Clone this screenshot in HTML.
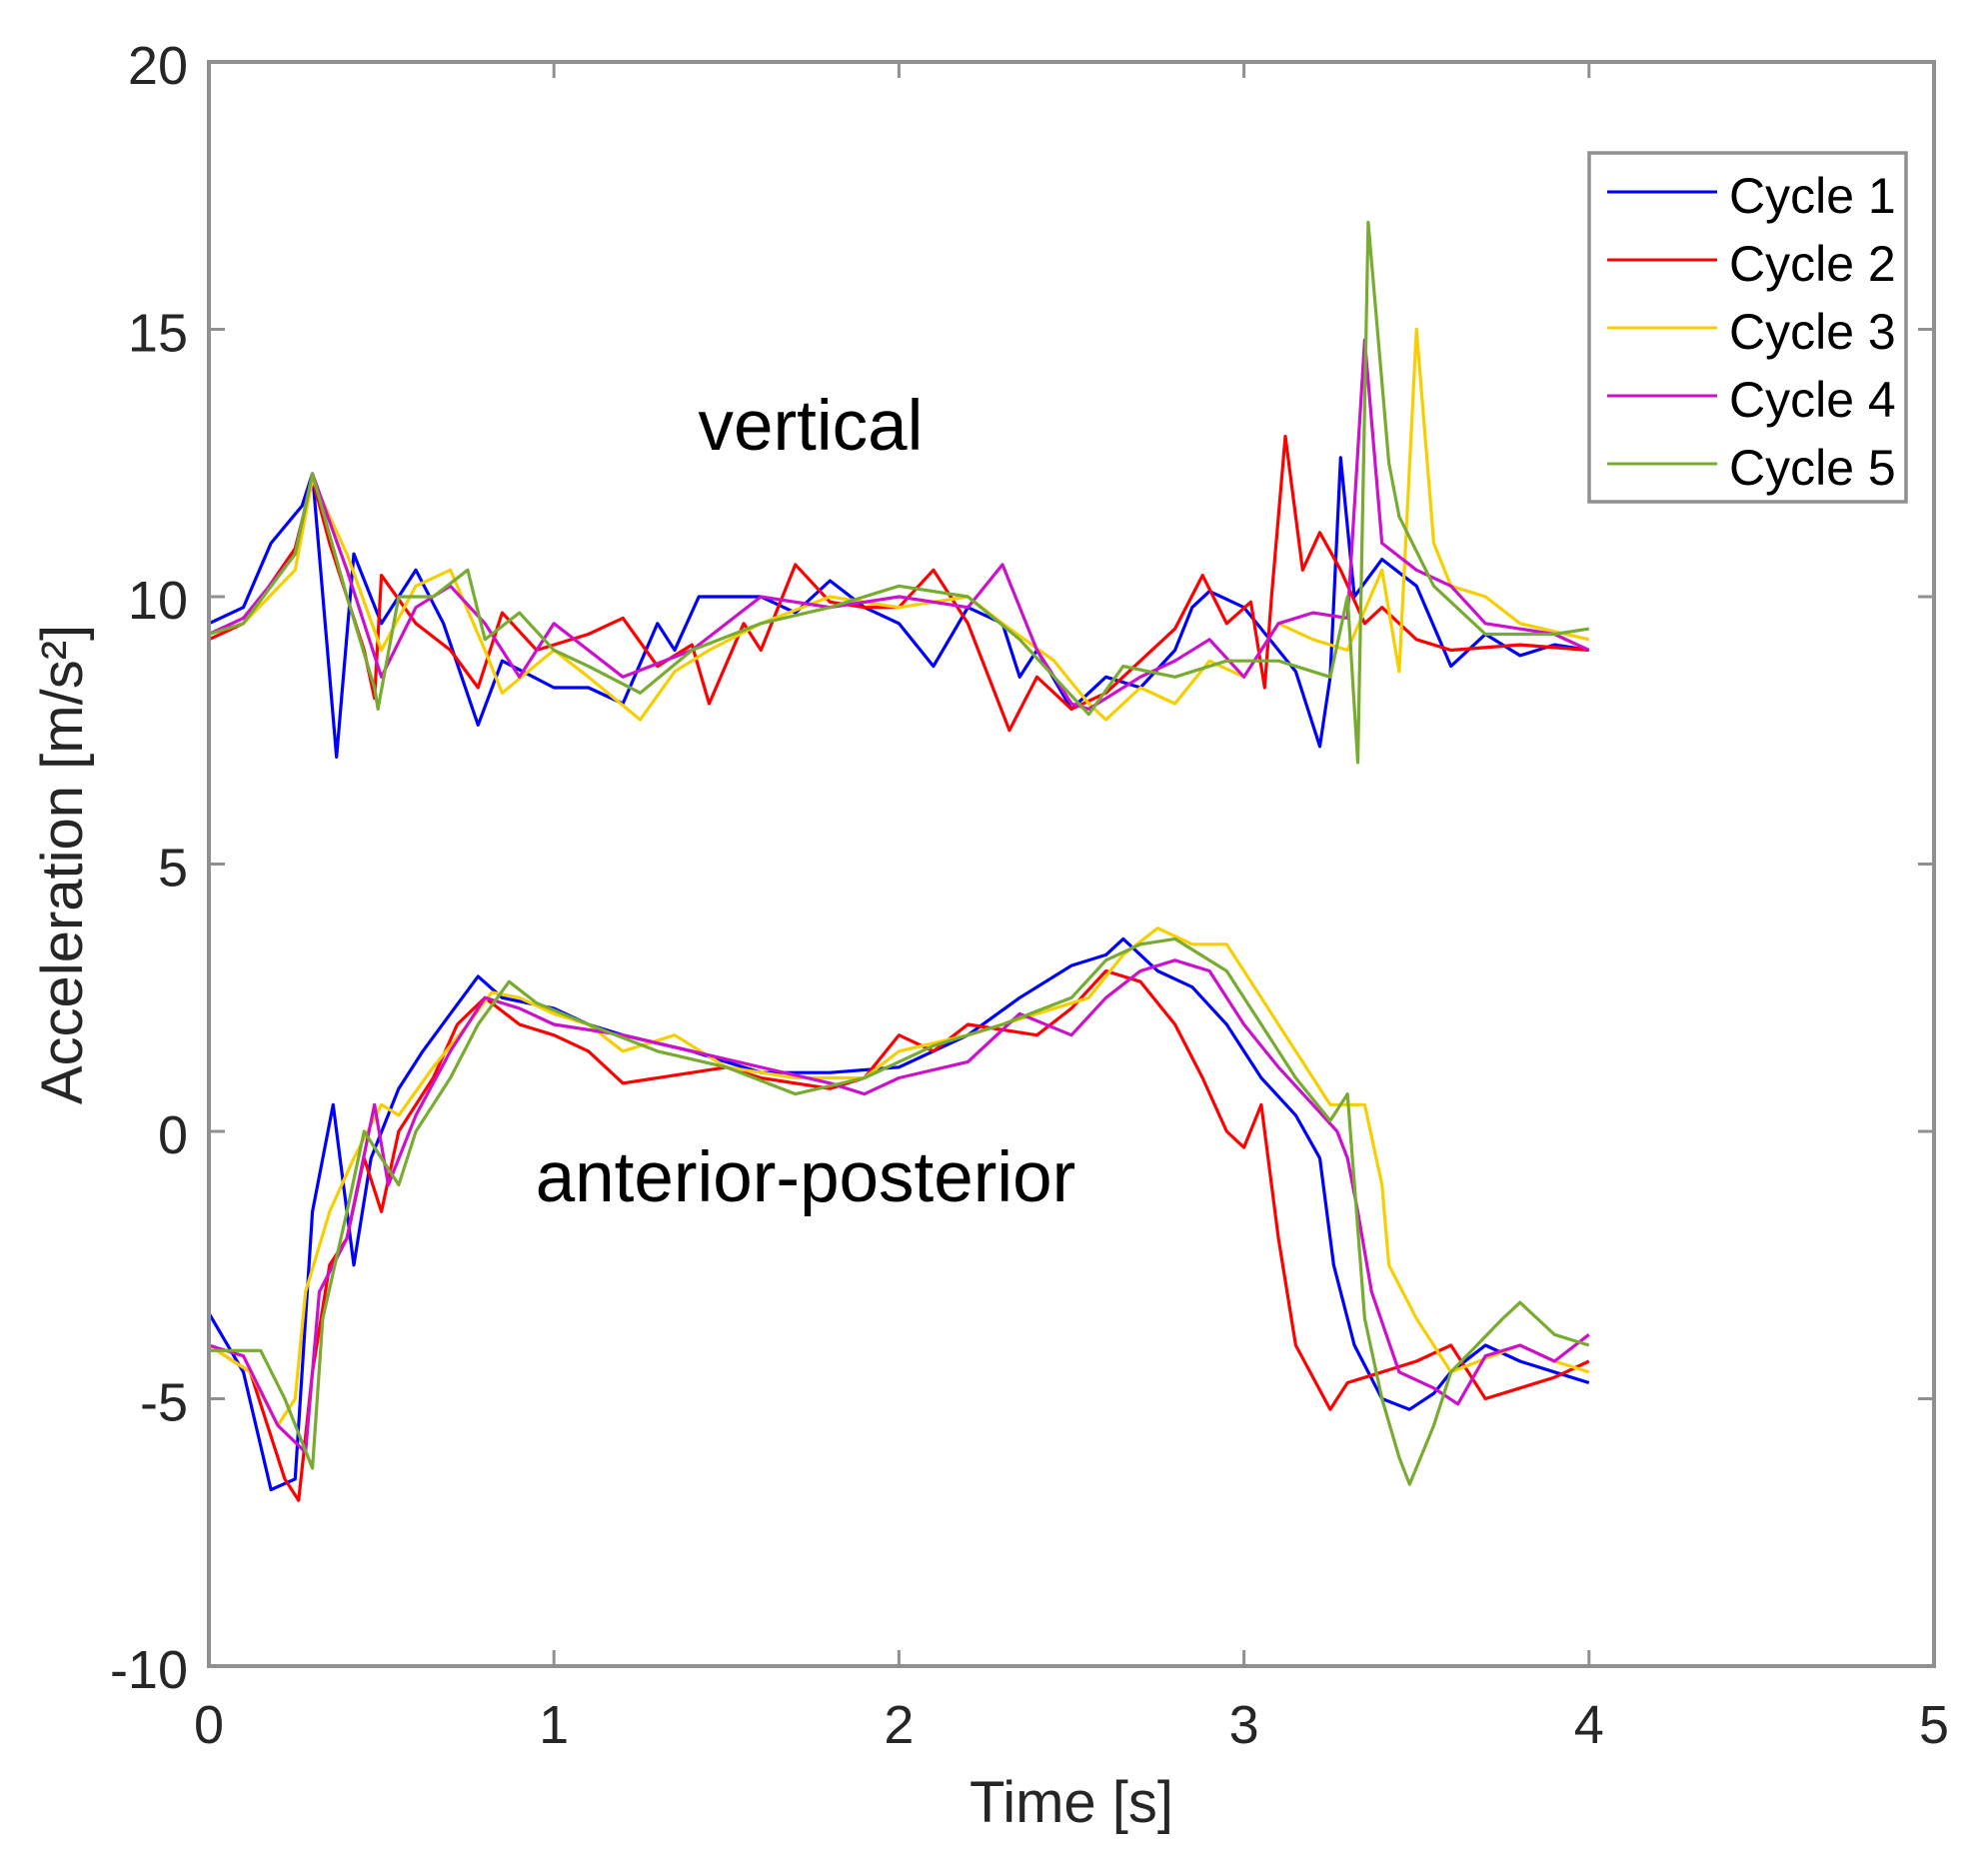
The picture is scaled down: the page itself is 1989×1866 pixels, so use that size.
<!DOCTYPE html>
<html><head><meta charset="utf-8"><style>
html,body{margin:0;padding:0;background:#fff;}
svg{display:block;font-family:"Liberation Sans",sans-serif;}
</style></head><body>
<svg id="chart" width="1989" height="1866" viewBox="0 0 1989 1866" xmlns="http://www.w3.org/2000/svg">
<rect width="1989" height="1866" fill="#fff"/>
<g id="axes"></g>
<g id="series"></g>
<rect x="209" y="62" width="1726" height="1605" fill="none" stroke="#909090" stroke-width="4"/>
<text x="811" y="450" font-size="71" text-anchor="middle" fill="#000">vertical</text>
<text x="806" y="1202" font-size="71" text-anchor="middle" fill="#000">anterior-posterior</text>
<text x="1072" y="1823" font-size="58" text-anchor="middle" fill="#262626">Time [s]</text>
<text transform="translate(82,865) rotate(-90)" font-size="58" text-anchor="middle" fill="#262626">Acceleration [m/s²]</text>
<g id="legend">
<rect x="1590" y="153" width="317" height="349" fill="#fff" stroke="#909090" stroke-width="3.5"/>
</g>
</svg>
<script>
const xTicks=[0,1,2,3,4,5];
const yTicks=[-10,-5,0,5,10,15,20];
const seriesNames=["Cycle 1","Cycle 2","Cycle 3","Cycle 4","Cycle 5"];
const seriesColors=["#0000ff","#ff0000","#f7cf00","#cc10cc","#77ac30"];

const vert1T=[0,0.1,0.18,0.27,0.3,0.37,0.42,0.5,0.6,0.68,0.78,0.85,1.0,1.1,1.2,1.3,1.35,1.42,1.6,1.7,1.8,1.9,2.0,2.1,2.2,2.3,2.35,2.4,2.5,2.6,2.7,2.8,2.85,2.9,3.0,3.1,3.15,3.22,3.25,3.28,3.32,3.4,3.5,3.6,3.7,3.8,3.9,4.0];
const vert1V=[9.5,9.8,11,11.7,12.3,7,10.8,9.5,10.5,9.5,7.6,8.8,8.3,8.3,8.0,9.5,9.0,10,10,9.7,10.3,9.8,9.5,8.7,9.8,9.5,8.5,9,7.9,8.5,8.3,9.0,9.8,10.1,9.8,9.0,8.6,7.2,8.5,12.6,10,10.7,10.2,8.7,9.3,8.9,9.1,9.0];
const vert2T=[0,0.1,0.25,0.3,0.35,0.45,0.48,0.5,0.6,0.7,0.78,0.85,0.95,1.1,1.2,1.3,1.4,1.45,1.55,1.6,1.7,1.8,1.9,2.0,2.1,2.2,2.32,2.4,2.5,2.6,2.7,2.8,2.88,2.95,3.02,3.06,3.08,3.12,3.17,3.22,3.28,3.35,3.4,3.5,3.6,3.8,4.0];
const vert2V=[9.2,9.5,10.9,12.2,11,9.0,8.1,10.4,9.5,9.0,8.3,9.7,9.0,9.3,9.6,8.7,9.1,8.0,9.5,9.0,10.6,9.9,9.8,9.8,10.5,9.5,7.5,8.5,7.9,8.2,8.8,9.4,10.4,9.5,9.9,8.3,10,13,10.5,11.2,10.5,9.5,9.8,9.2,9.0,9.1,9.0];
const vert3T=[0,0.1,0.25,0.3,0.4,0.5,0.6,0.7,0.8,0.85,1.0,1.1,1.25,1.35,1.45,1.6,1.8,2.0,2.2,2.3,2.45,2.55,2.6,2.7,2.8,2.9,3.0,3.1,3.2,3.3,3.4,3.45,3.5,3.55,3.6,3.7,3.8,4.0];
const vert3V=[9.3,9.5,10.5,12.2,10.8,9.0,10.2,10.5,9.0,8.2,9.0,8.5,7.7,8.6,9.0,9.5,10.0,9.8,10.0,9.5,8.8,8.0,7.7,8.3,8.0,8.8,8.5,9.5,9.2,9.0,10.5,8.6,15,11,10.2,10,9.5,9.2];
const vert4T=[0,0.1,0.25,0.3,0.4,0.5,0.6,0.7,0.8,0.9,1.0,1.2,1.4,1.6,1.8,2.0,2.2,2.3,2.4,2.5,2.55,2.7,2.8,2.9,3.0,3.1,3.2,3.3,3.35,3.4,3.5,3.6,3.7,3.9,4.0];
const vert4V=[9.3,9.6,10.8,12.3,10.5,8.5,9.8,10.2,9.5,8.5,9.5,8.5,9.0,10,9.8,10,9.8,10.6,9.0,8.0,7.9,8.5,8.8,9.2,8.5,9.5,9.7,9.6,14.8,11,10.5,10.2,9.5,9.3,9.0];
const vert5T=[0,0.1,0.25,0.3,0.4,0.48,0.49,0.55,0.65,0.75,0.8,0.9,1.0,1.1,1.25,1.4,1.6,1.8,2.0,2.2,2.35,2.45,2.55,2.65,2.8,2.95,3.1,3.25,3.3,3.33,3.36,3.42,3.45,3.55,3.7,3.9,4.0];
const vert5V=[9.3,9.5,10.8,12.3,10.0,8.3,7.9,10,10,10.5,9.2,9.7,9.0,8.7,8.2,9.0,9.5,9.8,10.2,10,9.2,8.5,7.8,8.7,8.5,8.8,8.8,8.5,10,6.9,17,12.5,11.5,10.2,9.3,9.3,9.4];

const ap1T=[0,0.1,0.18,0.25,0.3,0.36,0.42,0.47,0.55,0.62,0.7,0.78,0.85,1.0,1.1,1.2,1.4,1.6,1.8,2.0,2.2,2.35,2.5,2.6,2.65,2.75,2.85,2.95,3.05,3.15,3.22,3.26,3.32,3.4,3.48,3.55,3.6,3.7,3.8,3.9,4.0];
const ap1V=[-3.4,-4.5,-6.7,-6.5,-1.5,0.5,-2.5,-0.5,0.8,1.5,2.2,2.9,2.5,2.3,2.0,1.8,1.5,1.1,1.1,1.2,1.8,2.5,3.1,3.3,3.6,3.0,2.7,2.0,1.0,0.3,-0.5,-2.5,-4,-5,-5.2,-4.9,-4.5,-4.0,-4.3,-4.5,-4.7];
const ap2T=[0,0.12,0.22,0.26,0.3,0.35,0.4,0.45,0.5,0.55,0.65,0.72,0.8,0.9,1.0,1.1,1.2,1.4,1.5,1.6,1.8,1.9,2.0,2.1,2.2,2.4,2.5,2.6,2.7,2.8,2.88,2.95,3.0,3.05,3.1,3.15,3.25,3.3,3.4,3.5,3.6,3.7,3.8,3.9,4.0];
const ap2V=[-4.0,-4.5,-6.5,-6.9,-4.5,-2.5,-2.0,-0.5,-1.5,0,1,2,2.5,2.0,1.8,1.5,0.9,1.1,1.2,1.0,0.8,1.0,1.8,1.5,2.0,1.8,2.3,3.0,2.8,2.0,1.0,0,-0.3,0.5,-2,-4,-5.2,-4.7,-4.5,-4.3,-4.0,-5.0,-4.8,-4.6,-4.3];
const ap3T=[0,0.12,0.2,0.25,0.28,0.35,0.42,0.5,0.55,0.65,0.75,0.82,0.9,1.0,1.1,1.2,1.35,1.5,1.7,1.9,2.0,2.2,2.4,2.55,2.65,2.75,2.85,2.95,3.05,3.15,3.25,3.35,3.4,3.42,3.5,3.6,3.8,3.9,4.0];
const ap3V=[-4.0,-4.5,-5.5,-5.0,-3.0,-1.5,-0.5,0.5,0.3,1.2,2.0,2.6,2.5,2.2,2.0,1.5,1.8,1.2,1.0,1.0,1.5,1.8,2.2,2.5,3.3,3.8,3.5,3.5,2.5,1.5,0.5,0.5,-1,-2.5,-3.5,-4.5,-4.0,-4.3,-4.5];
const ap4T=[0,0.1,0.2,0.28,0.32,0.4,0.48,0.52,0.6,0.7,0.8,0.9,1.0,1.2,1.4,1.6,1.8,1.9,2.0,2.2,2.35,2.5,2.6,2.7,2.8,2.9,3.0,3.1,3.2,3.27,3.3,3.33,3.37,3.45,3.55,3.62,3.7,3.8,3.9,4.0];
const ap4V=[-4.0,-4.2,-5.5,-6.0,-3.0,-2.0,0.5,-1,0.3,1.5,2.5,2.3,2.0,1.8,1.5,1.2,0.9,0.7,1.0,1.3,2.2,1.8,2.5,3.0,3.2,3.0,2.0,1.2,0.5,0,-0.5,-1.5,-3,-4.5,-4.8,-5.1,-4.2,-4,-4.3,-3.8];
const ap5T=[0,0.15,0.22,0.3,0.33,0.4,0.45,0.55,0.6,0.7,0.78,0.87,0.95,1.1,1.3,1.5,1.7,1.9,2.1,2.3,2.5,2.6,2.7,2.8,2.95,3.05,3.15,3.25,3.3,3.35,3.4,3.45,3.48,3.55,3.6,3.75,3.8,3.9,4.0];
const ap5V=[-4.1,-4.1,-5,-6.3,-3.5,-1.5,0,-1,0,1,2.0,2.8,2.4,2.0,1.5,1.2,0.7,1.0,1.6,2.0,2.5,3.2,3.5,3.6,3.0,2.0,1.0,0.2,0.7,-3.5,-5.0,-6.1,-6.6,-5.5,-4.5,-3.5,-3.2,-3.8,-4.0];

const verticalT=[vert1T,vert2T,vert3T,vert4T,vert5T];
const verticalV=[vert1V,vert2V,vert3V,vert4V,vert5V];
const apT=[ap1T,ap2T,ap3T,ap4T,ap5T];
const apV=[ap1V,ap2V,ap3V,ap4V,ap5V];

const L=209,R=1935,T=62,B=1667;
const xMin=0,xMax=5,yMin=-10,yMax=20;
function xs(t){return L+(t-xMin)/(xMax-xMin)*(R-L);}
function ys(v){return B-(v-yMin)/(yMax-yMin)*(B-T);}
const NS="http://www.w3.org/2000/svg";
const axes=document.getElementById('axes');
const series=document.getElementById('series');
function mk(tag,attrs,parent){const e=document.createElementNS(NS,tag);for(const k in attrs)e.setAttribute(k,attrs[k]);parent.appendChild(e);return e;}

xTicks.forEach(t=>{
  const x=xs(t);
  const a=mk('line',{x1:x,x2:x,y1:B,y2:B-16,stroke:'#909090','stroke-width':3},axes);
  
  
  const b=mk('line',{x1:x,x2:x,y1:T,y2:T+16,stroke:'#909090','stroke-width':3},axes);
  
  
  const tx=mk('text',{x:x,y:1744,'font-size':54,'text-anchor':'middle',fill:'#262626'},axes);
  tx.textContent=String(t);
  
  
});
yTicks.forEach(v=>{
  const y=ys(v);
  const a=mk('line',{x1:L,x2:L+16,y1:y,y2:y,stroke:'#909090','stroke-width':3},axes);
  
  
  const b=mk('line',{x1:R,x2:R-16,y1:y,y2:y,stroke:'#909090','stroke-width':3},axes);
  
  
  const tx=mk('text',{x:188,y:y+22,'font-size':54,'text-anchor':'end',fill:'#262626'},axes);
  tx.textContent=String(v);
  
  
});

function drawLine(ts,vs,color,name){
  const d=ts.map((t,i)=>(i?'L':'M')+xs(t).toFixed(1)+','+ys(vs[i]).toFixed(1)).join(' ');
  const p=mk('path',{d:d,fill:'none',stroke:color,'stroke-width':3.2,'stroke-linejoin':'round'},series);
  
  
}
for(let i=0;i<5;i++){
  drawLine(verticalT[i],verticalV[i],seriesColors[i],'vertical-cycle-'+(i+1)+'-line');
  drawLine(apT[i],apV[i],seriesColors[i],'ap-cycle-'+(i+1)+'-line');
}

const legend=document.getElementById('legend');
seriesNames.forEach((n,i)=>{
  const y=192+i*68;
  const g=mk('g',{},legend);
  
  
  const ln=mk('line',{x1:1608,x2:1718,y1:y,y2:y,stroke:seriesColors[i],'stroke-width':3},g);
  
  
  const tx=mk('text',{x:1730,y:y+21,'font-size':50,fill:'#000'},g);
  tx.textContent=n;
  
  
});
</script>
</body></html>
